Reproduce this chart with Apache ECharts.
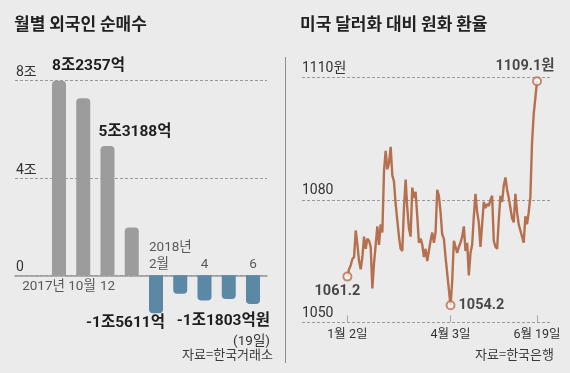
<!DOCTYPE html>
<html><head><meta charset="utf-8">
<script src="https://cdn.jsdelivr.net/npm/echarts@6/dist/echarts.min.js"></script>
<style>html,body{margin:0;padding:0;background:#ebebeb}#c{width:570px;height:373px}</style>
</head><body><div id="c"></div>
<script>
// ---- Left panel: monthly foreign net purchase (trillion won) ----
const monthCategories = ['2017년 10월','11월','12월','2018년 1월','2월','3월','4월','5월','6월'];
const monthTickLabels = ['2017년 10월','','12','','2018년\n2월','','4','','6'];
const netBuyTrillion = [8.2357, 7.28, 5.3188, 1.97, -1.5611, -0.76, -1.04, -0.97, -1.1803];
const barValueLabels = ['8조2357억','','5조3188억','','-1조5611억','','','','-1조1803억원'];
const barLabelNotes = ['','','','','','','','','(19일)'];
const netBuyTickValues = [0, 4, 8];
const netBuyTickLabels = ['0','4조','8조'];

// ---- Right panel: KRW per USD, daily, 2018-01-02 .. 2018-06-19 ----
const fxRates = [
1061.2,1063,1064,1065.5,1066,1072.5,1069,1065,1063,1066,
1071,1068,1070.5,1070,1068.5,1058.3,1064.5,1064.5,1073.5,1069,
1074,1072,1087,1092,1087.5,1089,1093,1086,1084.5,1079,
1075,1071,1068,1067.5,1078,1085,1078,1073,1071,1083,
1080.5,1082,1076,1069.5,1070.5,1069,1066,1068,1065,1067.5,
1070,1072,1069.5,1072,1082.5,1081,1077,1071.5,1070.5,1066,
1062,1058,1054.2,1060,1070,1068.5,1067,1068.5,1069.5,1071,
1073.5,1067.5,1069.5,1061.5,1067,1069,1076,1081.5,1077,1074.5,
1068.5,1074,1079.5,1078,1079,1078.5,1080,1081,1070,1068.5,
1068,1075,1081,1079.5,1083.5,1085.5,1082.5,1080.5,1078,1075.5,
1074.5,1081.5,1077,1074,1072.5,1071,1069.5,1076,1074,1077,
1080.8,1094,1101,1105,1109.1];
const fxTickIdx = [0, 62, 114];
const fxTickLabels = ['1월 2일','4월 3일','6월 19일'];
const fxMarkIdx = [0, 62, 114];
const fxMarkSuffix = ['', '', '원'];
const fxYTickValues = [1050, 1080, 1110];
const fxYTickLabels = ['1050','1080','1110원'];

const NFONT = "'Roboto','Noto Sans CJK KR',sans-serif";
const KFONT = "'Noto Sans CJK KR',sans-serif";
const GRAY = '#9c9c9c', BLUE = '#5b88a5', BROWN = '#b5704f', GRID = '#9a9a9a';

const chart = echarts.init(document.getElementById('c'), null, {renderer: 'canvas'});

const barLabelCfg = [
  {position: 'top', align: 'left', offset: [-7, 0]},
  null,
  {position: 'top', align: 'left', offset: [-9, 1]},
  null,
  {position: 'bottom', align: 'right', offset: [9, -5]},
  null, null, null,
  {position: 'bottom', align: 'right', offset: [17, 3]}
];

const barData = netBuyTrillion.map((v, i) => {
  const item = {
    value: [i, v],
    itemStyle: {color: v >= 0 ? GRAY : BLUE, borderRadius: v >= 0 ? [4,4,0,0] : [0,0,4,4]}
  };
  if (barValueLabels[i]) {
    const c = barLabelCfg[i];
    item.label = {
      show: true, position: c.position, align: c.align, offset: c.offset, distance: 4,
      formatter: () => barLabelNotes[i] ? '{b|' + barValueLabels[i] + '}\n{n|' + barLabelNotes[i] + '}' : '{b|' + barValueLabels[i] + '}',
      rich: {
        b: {fontFamily: NFONT, fontWeight: 'bold', fontSize: 15.5, color: '#1e1e1e', lineHeight: 21, align: c.align},
        n: {fontFamily: NFONT, fontSize: 13.5, color: '#333', lineHeight: 19, align: c.align}
      }
    };
  }
  return item;
});

// month tick labels, placed at the zero line through the value scales
const monthTickData = [];
monthTickLabels.forEach((t, i) => {
  if (!t) return;
  const pos = netBuyTrillion[i] >= 0;
  const multi = t.indexOf('\n') >= 0;
  monthTickData.push({
    value: [i, 0],
    label: {
      show: true, position: pos ? 'bottom' : 'top', distance: pos ? 3 : 2,
      align: multi ? 'left' : 'center', offset: multi ? [-7, 0] : [0, 0],
      formatter: t, fontFamily: NFONT, fontSize: 13.5, lineHeight: 17, color: '#333'
    }
  });
});

const option = {
  backgroundColor: '#ebebeb',
  animation: false,
  title: [
    {text: '월별 외국인 순매수', left: 14, top: 15, padding: 0,
     textStyle: {fontFamily: KFONT, fontSize: 17, fontWeight: 'bold', color: '#222'}},
    {text: '미국 달러화 대비 원화 환율', left: 300, top: 15, padding: 0,
     textStyle: {fontFamily: KFONT, fontSize: 17, fontWeight: 'bold', color: '#222'}},
    {text: '자료=한국거래소', right: 297, top: 348, padding: 0,
     textStyle: {fontFamily: KFONT, fontSize: 13, fontWeight: 'normal', color: '#3a3a3a'}},
    {text: '자료=한국은행', right: 16, top: 348, padding: 0,
     textStyle: {fontFamily: KFONT, fontSize: 13, fontWeight: 'normal', color: '#3a3a3a'}}
  ],
  graphic: [
    {type: 'line', shape: {x1: 285.5, y1: 57, x2: 285.5, y2: 363}, style: {stroke: '#8c8c8c', lineWidth: 1}}
  ],
  grid: [
    {left: 15, width: 252, top: 80.7, height: 291.9, containLabel: false, outerBoundsMode: 'none'},
    {left: 302, width: 248.5, top: 77.5, height: 244.8, containLabel: false, outerBoundsMode: 'none'}
  ],
  xAxis: [
    {gridIndex: 0, type: 'value', min: -1.814, max: 8.577,
     axisLine: {show: true, onZero: true, lineStyle: {color: '#999', width: 1.5}},
     axisTick: {show: false}, splitLine: {show: false}, axisLabel: {show: false}},
    {gridIndex: 1, type: 'value', min: -27.3, max: 122.1,
     axisLine: {show: false}, splitLine: {show: false},
     axisTick: {show: true, customValues: fxTickIdx, inside: true, length: 7, lineStyle: {color: '#aaa'}},
     axisLabel: {customValues: fxTickIdx, formatter: v => fxTickLabels[fxTickIdx.indexOf(v)] || '', margin: 6,
       fontFamily: NFONT, fontSize: 12.5, color: '#333'}}
  ],
  yAxis: [
    {gridIndex: 0, type: 'value', min: -4, max: 8, interval: 4,
     axisLine: {show: false}, axisTick: {show: false},
     splitLine: {show: true, showMinLine: false, lineStyle: {type: [3, 2], color: GRID, width: 1}},
     axisLabel: {inside: true, margin: 1, verticalAlign: 'bottom', showMinLabel: false,
       formatter: v => { const k = netBuyTickValues.indexOf(v); return k < 0 ? '' : netBuyTickLabels[k]; },
       fontFamily: NFONT, fontSize: 14, color: '#333', padding: [0, 0, 1, 0]}},
    {gridIndex: 1, type: 'value', min: 1050, max: 1110, interval: 30,
     axisLine: {show: false}, axisTick: {show: false},
     splitLine: {show: true, lineStyle: {type: [3, 2], color: GRID, width: 1}},
     axisLabel: {inside: true, margin: 0, verticalAlign: 'bottom',
       formatter: v => { const k = fxYTickValues.indexOf(v); return k < 0 ? '' : fxYTickLabels[k]; },
       fontFamily: NFONT, fontSize: 14, color: '#333', padding: [0, 0, 2, 0]}}
  ],
  series: [
    {type: 'bar', xAxisIndex: 0, yAxisIndex: 0, barWidth: 14, data: barData, z: 3},
    {type: 'scatter', xAxisIndex: 0, yAxisIndex: 0, symbolSize: 0, silent: true, z: 4,
     itemStyle: {color: 'rgba(0,0,0,0)'}, data: monthTickData},
    {type: 'line', xAxisIndex: 1, yAxisIndex: 1, data: fxRates.map((v, i) => [i, v]),
     showSymbol: false, symbol: 'none', lineStyle: {color: BROWN, width: 2.4}, z: 3},
    {type: 'scatter', xAxisIndex: 1, yAxisIndex: 1, symbol: 'circle', symbolSize: 8, z: 5,
     itemStyle: {color: '#f6f6f6', borderColor: BROWN, borderWidth: 2},
     label: {show: true, fontFamily: NFONT, fontWeight: 'bold', fontSize: 14.5, color: '#1e1e1e'},
     data: fxMarkIdx.map((idx, k) => ({
       value: [idx, fxRates[idx]],
       label: [
         {position: 'bottom', distance: 3, offset: [-10, 0], formatter: fxRates[idx] + fxMarkSuffix[k]},
         {position: 'right', distance: 3, offset: [0, 0], formatter: fxRates[idx] + fxMarkSuffix[k]},
         {position: 'top', distance: 3, offset: [-12, 0], formatter: fxRates[idx] + fxMarkSuffix[k]}
       ][k]
     }))}
  ]
};
chart.setOption(option);
</script></body></html>
